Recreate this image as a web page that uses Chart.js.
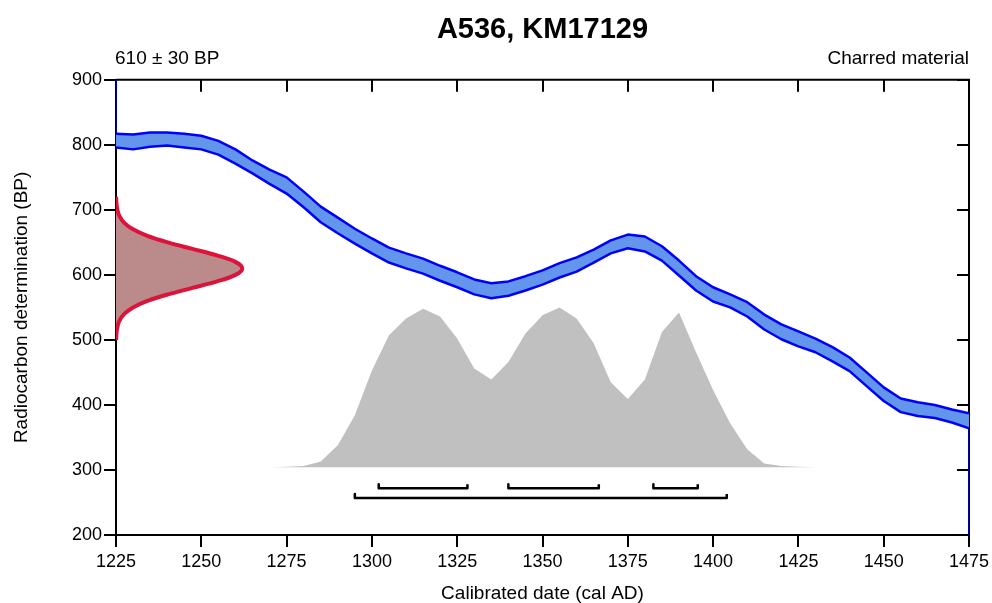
<!DOCTYPE html>
<html>
<head>
<meta charset="utf-8">
<title>A536, KM17129</title>
<script src="https://cdn.jsdelivr.net/npm/chart.js@4"></script>
<style>
  body { margin: 0; background: #fff; }
  #wrap { width: 992px; height: 603px; }
</style>
</head>
<body>
<div id="wrap"><canvas id="chart" width="992" height="603"></canvas></div>
<script>
// calibration curve, 5-year steps (cal AD) with the +/- 1 sigma edges in BP
const curveYears = [1225, 1230, 1235, 1240, 1245, 1250, 1255, 1260, 1265, 1270,
    1275, 1280, 1285, 1290, 1295, 1300, 1305, 1310, 1315, 1320,
    1325, 1330, 1335, 1340, 1345, 1350, 1355, 1360, 1365, 1370,
    1375, 1380, 1385, 1390, 1395, 1400, 1405, 1410, 1415, 1420,
    1425, 1430, 1435, 1440, 1445, 1450, 1455, 1460, 1465, 1470, 1475];
const curveUpper = [817, 816, 819, 819, 817, 814, 806, 793, 776, 762,
    750, 728, 705, 688, 671, 656, 642, 633, 625, 614,
    604, 593, 587, 590, 598, 607, 618, 627, 639, 653,
    662, 659, 644, 622, 598, 581, 570, 558, 539, 524,
    513, 502, 489, 473, 450, 427, 410, 404, 400, 393, 387];
const curveLower = [796, 793, 797, 799, 796, 793, 785, 771, 756, 740,
    725, 704, 681, 664, 648, 633, 619, 610, 602, 591,
    581, 570, 564, 568, 576, 585, 596, 605, 619, 633,
    641, 636, 622, 599, 576, 559, 550, 536, 516, 501,
    490, 481, 467, 452, 429, 406, 389, 383, 380, 373, 364];
// where the band outline leaves the plot (clipped edges)
const curveEntryBP = 900;
const curveExitBP = 200;

// calibrated (posterior) distribution, drawn above a base line
const postYears = [1270, 1275, 1280, 1285, 1290, 1295, 1300, 1305, 1310, 1315,
    1320, 1325, 1330, 1335, 1340, 1345, 1350, 1355, 1360, 1365,
    1370, 1375, 1380, 1385, 1390, 1395, 1400, 1405, 1410, 1415,
    1420, 1425, 1430, 1435];
const postHeight = [304, 305, 306, 313, 338, 384, 453, 507, 533, 548,
    536, 502, 456, 439, 466, 510, 538, 550, 533, 495,
    435, 409, 439, 512, 542, 481, 423, 372, 332, 310,
    306, 305, 304, 304];
const postBase = 304;

// measured date 610 +/- 30 BP, shown along the y axis
const measBP = [500, 510, 520, 530, 540, 550, 560, 570, 580, 590, 600, 610,
    620, 630, 640, 650, 660, 670, 680, 690, 700, 710, 720];
const measWidth = [0.04, 0.14, 0.41, 1.06, 2.43, 5.0, 9.2, 15.2, 22.4, 29.6, 35.0, 37.0,
    35.0, 29.6, 22.4, 15.2, 9.2, 5.0, 2.43, 1.06, 0.41, 0.14, 0.04];

// ranges (68.3% and 95.4%)
const range68Start = [1302, 1340, 1382.5];
const range68End = [1328, 1366.5, 1395.5];
const range95Start = [1295];
const range95End = [1404];

const xTicks = { min: 1225, max: 1475, step: 25 };
const yTicks = { min: 200, max: 900, step: 100 };

const titleText = "A536, KM17129";
const ageLabel = "610 \u00b1 30 BP";
const materialLabel = "Charred material";

const FONT = '"Liberation Sans", Arial, Helvetica, sans-serif';
Chart.defaults.font.family = FONT;
Chart.defaults.color = "#000";

function bracketData(starts, ends, level, lip) {
    const pts = [];
    starts.forEach((s, i) => {
        const e = ends[i];
        pts.push({ x: s, y: level + lip }, { x: s, y: level }, { x: e, y: level }, { x: e, y: level + lip });
        pts.push({ x: e, y: null });
    });
    return pts;
}

// top and right edges with inward ticks, plus the two corner labels
const framePlugin = {
    id: "frame",
    beforeDatasetsDraw(chart) {
        const { ctx, chartArea: a, scales } = chart;
        ctx.save();
        ctx.strokeStyle = "#000";
        ctx.lineWidth = 2;
        ctx.beginPath();
        ctx.moveTo(a.left, a.top);
        ctx.lineTo(a.right, a.top);
        ctx.lineTo(a.right, a.bottom);
        scales.x.ticks.forEach(t => {
            const px = Math.round(scales.x.getPixelForValue(t.value));
            ctx.moveTo(px, a.top);
            ctx.lineTo(px, a.top + 12);
        });
        scales.y.ticks.forEach(t => {
            const py = Math.round(scales.y.getPixelForValue(t.value));
            ctx.moveTo(a.right, py);
            ctx.lineTo(a.right - 12, py);
        });
        ctx.stroke();

        ctx.fillStyle = "#000";
        ctx.font = "19px " + FONT;
        ctx.textBaseline = "alphabetic";
        ctx.textAlign = "left";
        ctx.fillText(ageLabel, a.left - 1, 64);
        ctx.textAlign = "right";
        ctx.fillText(materialLabel, a.right, 64);
        ctx.restore();
    }
};

const n = curveYears.length;
const ctx = document.getElementById("chart").getContext("2d");
new Chart(ctx, {
    type: "line",
    data: {
        datasets: [
            {
                // measured date
                indexAxis: "y",
                data: measBP.map((bp, i) => ({ x: xTicks.min + measWidth[i], y: bp })),
                borderColor: "rgb(220,20,60)",
                backgroundColor: "rgb(187,138,138)",
                borderWidth: 4,
                tension: 0.35,
                fill: { value: xTicks.min }
            },
            {
                data: bracketData(range68Start, range68End, 272, 6),
                borderColor: "#000",
                borderWidth: 2.5,
                fill: false
            },
            {
                data: bracketData(range95Start, range95End, 257, 6),
                borderColor: "#000",
                borderWidth: 2.5,
                fill: false
            },
            {
                // clipped band outline at both plot edges
                data: [{ x: curveYears[0], y: curveEntryBP }, { x: curveYears[0], y: curveUpper[0] },
                    { x: curveYears[0], y: null },
                    { x: curveYears[n - 1], y: curveLower[n - 1] }, { x: curveYears[n - 1], y: curveExitBP }],
                borderColor: "#000099",
                borderWidth: 2,
                fill: false
            },
            {
                data: curveYears.map((x, i) => ({ x: x, y: curveUpper[i] })),
                borderColor: "#0000ff",
                borderWidth: 2.5,
                fill: false
            },
            {
                data: curveYears.map((x, i) => ({ x: x, y: curveLower[i] })),
                borderColor: "#0000ff",
                backgroundColor: "rgb(100,149,237)",
                borderWidth: 2.5,
                fill: "-1"
            },
            {
                data: postYears.map((x, i) => ({ x: x, y: postHeight[i] })),
                borderWidth: 0,
                borderColor: "rgba(0,0,0,0)",
                backgroundColor: "rgb(192,192,192)",
                fill: { value: postBase }
            }
        ]
    },
    options: {
        responsive: false,
        animation: false,
        layout: { padding: { left: 0, right: 23, top: 0, bottom: 0 } },
        elements: {
            point: { radius: 0, hoverRadius: 0 },
            line: { borderJoinStyle: "round" }
        },
        plugins: {
            legend: { display: false },
            tooltip: { enabled: false },
            title: {
                display: true,
                text: titleText,
                fullSize: false,
                color: "#000",
                font: { size: 29, weight: "bold" },
                padding: { top: 13, bottom: 32 }
            }
        },
        scales: {
            x: {
                type: "linear",
                position: "bottom",
                min: xTicks.min,
                max: xTicks.max,
                afterFit: s => {
                    s.height = 68;
                    s.paddingLeft = 0;
                    s.paddingRight = 0;
                },
                ticks: {
                    stepSize: xTicks.step,
                    padding: 4,
                    font: { size: 18 },
                    color: "#000",
                    callback: v => String(v)
                },
                grid: { drawOnChartArea: false, color: "#000", lineWidth: 2, tickLength: 12 },
                border: { color: "#000", width: 2 },
                title: {
                    display: true,
                    text: "Calibrated date (cal AD)",
                    font: { size: 19, lineHeight: 1 },
                    color: "#000",
                    padding: { top: 0, bottom: 0 }
                }
            },
            y: {
                type: "linear",
                position: "left",
                min: yTicks.min,
                max: yTicks.max,
                afterFit: s => { s.width = 116; },
                ticks: {
                    stepSize: yTicks.step,
                    padding: 2,
                    font: { size: 18 },
                    color: "#000"
                },
                grid: { drawOnChartArea: false, color: "#000", lineWidth: 2, tickLength: 12 },
                border: { color: "#000", width: 2 },
                title: {
                    display: true,
                    text: "Radiocarbon determination (BP)",
                    font: { size: 19, lineHeight: 1 },
                    color: "#000",
                    padding: { top: 12, bottom: 0 }
                }
            }
        }
    },
    plugins: [framePlugin]
});
</script>
</body>
</html>
